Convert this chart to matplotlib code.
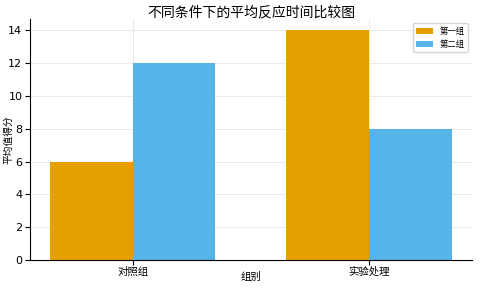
import numpy as np
import matplotlib
matplotlib.use("Agg")
import matplotlib.pyplot as plt

plt.rcParams['font.family'] = ['DejaVu Sans', 'Noto Sans CJK SC']

# data
categories = ["对照组", "实验处理"]
series_names = ["第一组", "第二组"]
series_a = [6, 14]
series_b = [12, 8]
colors = ["#E69F00", "#56B4E9"]

fig, ax = plt.subplots(figsize=(4.8, 2.88), dpi=100)

x = np.arange(len(categories))
width = 0.35
ax.bar(x - width / 2, series_a, width, color=colors[0], label=series_names[0], zorder=2)
ax.bar(x + width / 2, series_b, width, color=colors[1], label=series_names[1], zorder=2)

ax.set_xticks(x)
ax.set_xticklabels(categories, fontsize=7.5)
ax.tick_params(axis='y', labelsize=8, pad=2)
ax.tick_params(axis='x', pad=1)
ax.set_xlabel("组别", fontsize=7.5, va='center')
ax.set_ylabel("平均值得分", fontsize=7, va='center')
ax.xaxis.set_label_coords(0.5, -0.072)
ax.yaxis.set_label_coords(-0.05, 0.5)
ax.set_title("不同条件下的平均反应时间比较图", fontsize=10, pad=1)

ax.grid(True, color="#e6e6e6", linewidth=0.6, zorder=0)
ax.spines['top'].set_visible(False)
ax.spines['right'].set_visible(False)
ax.legend(fontsize=6, loc="upper right")

fig.subplots_adjust(left=0.0625, right=0.983, top=0.934, bottom=0.097)
fig.savefig("out.png", dpi=100)
